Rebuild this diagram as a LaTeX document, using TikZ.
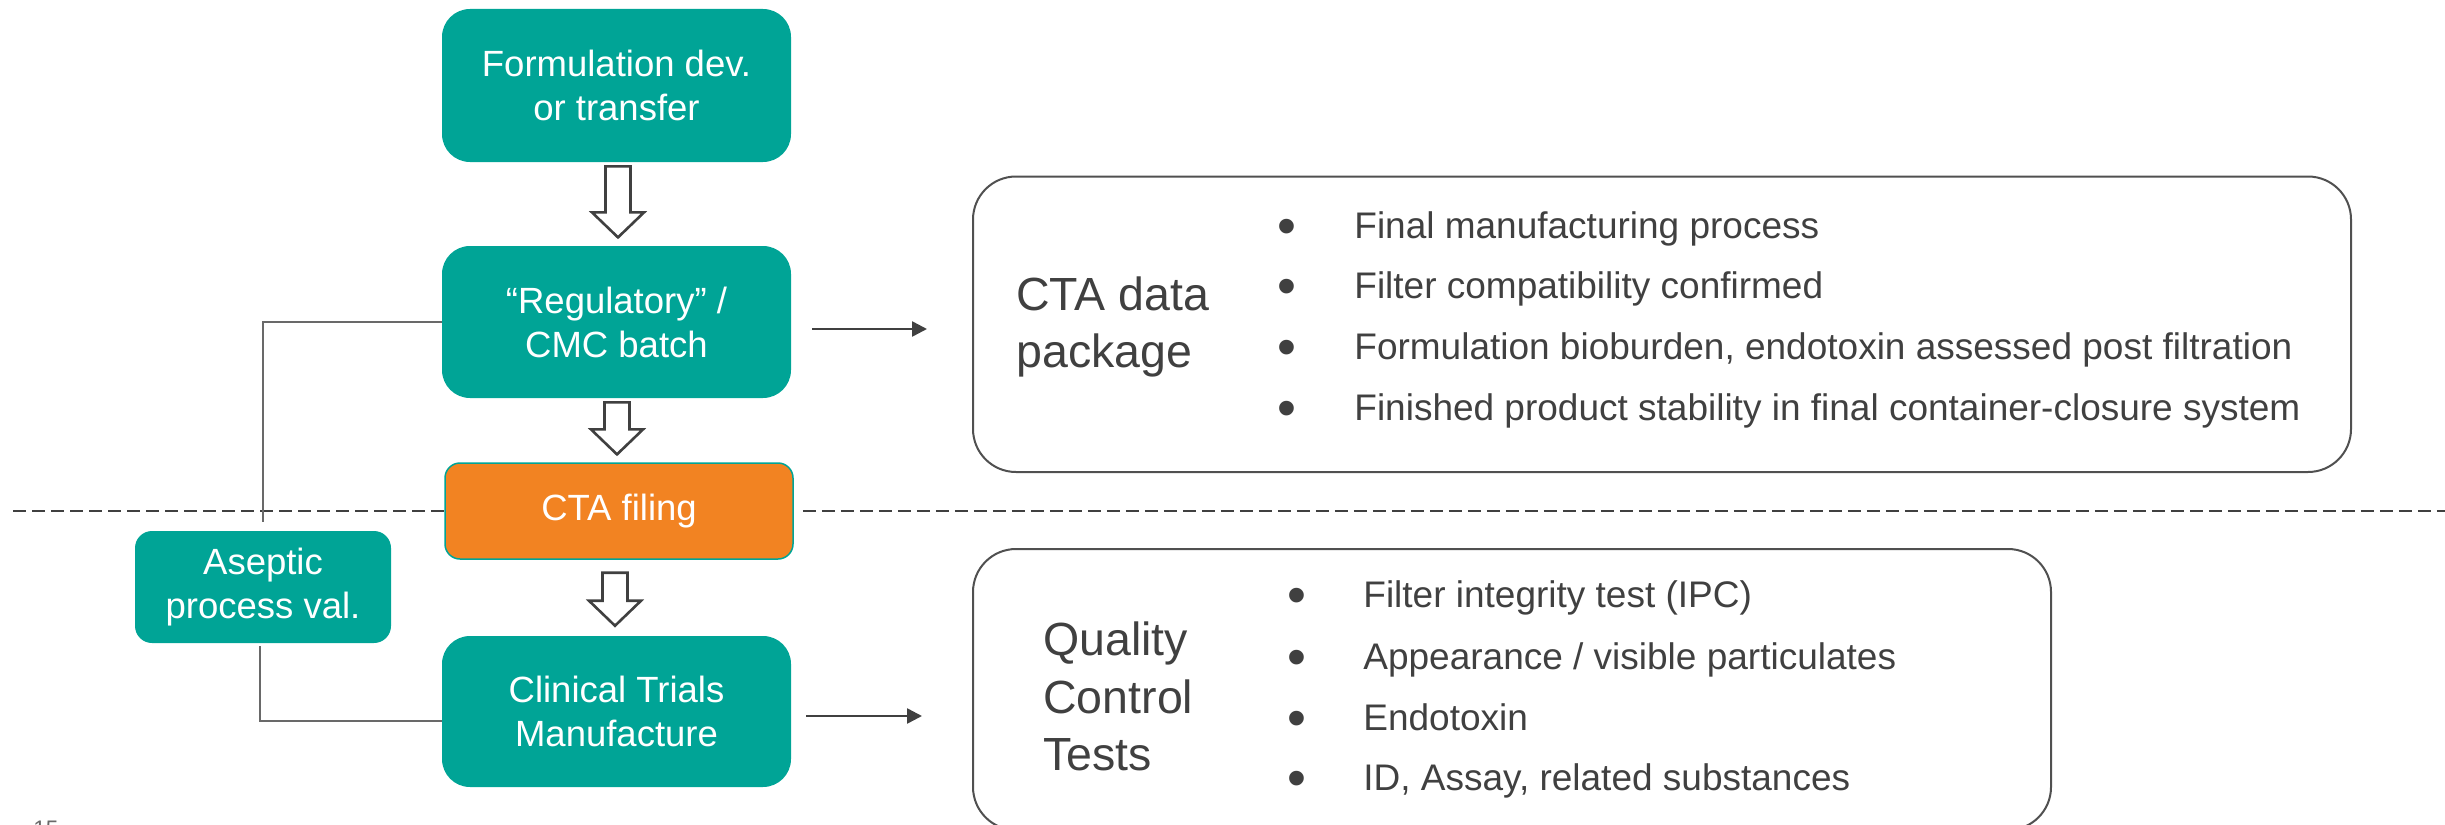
\documentclass[tikz,border=0pt]{standalone}
\usepackage{fontspec}
\setmainfont{Liberation Sans}
\usetikzlibrary{calc,arrows.meta}

\definecolor{flowteal}{RGB}{0,164,150}
\definecolor{fileorange}{RGB}{242,131,34}
\definecolor{inkgray}{RGB}{64,64,64}
\definecolor{boxgray}{RGB}{80,80,80}
\definecolor{feedgray}{RGB}{105,105,105}

\tikzset{
  flowbox/.style={fill=flowteal, draw=none, rounded corners=14pt, text=white,
    font=\fontsize{18.25pt}{22pt}\selectfont, align=center, inner sep=0pt},
  panel/.style={draw=boxgray, line width=1pt, rounded corners=21.5pt, fill=white, inner sep=0pt},
  heading/.style={text=inkgray, font=\fontsize{23.25pt}{28pt}\selectfont, inner sep=0pt},
  item/.style={text=inkgray, font=\fontsize{18.5pt}{22pt}\selectfont, inner sep=0pt},
  dot/.style={text=inkgray, font=\fontsize{27pt}{30pt}\selectfont, inner sep=0pt, anchor=center},
  blockline/.style={draw=inkgray, line width=1.3pt, fill=white, line join=miter},
  pointer/.style={draw=inkgray, line width=1.25pt, -{Triangle[length=7.5pt,width=7.5pt]}},
  feed/.style={draw=feedgray, line width=0.75pt},
  divider/.style={draw=inkgray, line width=1pt, dash pattern=on 6.5pt off 3pt},
  pagenum/.style={text=feedgray, font=\fontsize{11.25pt}{13pt}\selectfont, inner sep=0pt},
  pics/blockdown/.style={code={
    \draw[blockline] (-12.5,0) -- (-12.5,#1-25) -- (-26,#1-25) -- (0,#1)
      -- (26,#1-25) -- (12.5,#1-25) -- (12.5,0) -- cycle;
  }}
}

\begin{document}
\begin{tikzpicture}[x=0.5pt,y=-0.5pt]
\useasboundingbox (0,0) rectangle (2445,824);
\clip (0,0) rectangle (2445,824);

% process steps
\node[flowbox, minimum width=174.5pt, minimum height=76.5pt] (form) at (616.5,85.5) {Formulation dev.\\or transfer};
\node[flowbox, minimum width=174.5pt, minimum height=76pt] (reg) at (616.5,322) {“Regulatory” /\\CMC batch};
\node[flowbox, fill=fileorange, draw=flowteal, line width=0.75pt, rounded corners=7.5pt,
      minimum width=174pt, minimum height=48pt] (cta) at (619,511) {CTA filing};
\node[flowbox, minimum width=174.5pt, minimum height=75.5pt] (clin) at (616.5,711.5) {Clinical Trials\\Manufacture};
\node[flowbox, rounded corners=8.5pt, minimum width=128pt, minimum height=56pt] (ase) at (263,587) {Aseptic\\process val.};

% divider between the two phases
\draw[divider] (13,511) -- (cta.west);
\draw[divider] ($(cta.east)+(9,0)$) -- (2445,511);

% hollow flow arrows
\pic at ($(form.south)+(1.5,4)$) {blockdown=71};
\pic at ($(reg.south)+(0.5,4)$) {blockdown=52};
\pic at ($(cta.south)+(-4,13)$) {blockdown=53};

% aseptic validation links
\draw[feed] (reg.west) -| ($(ase.north)+(0,-9)$);
\draw[feed] ($(ase.south)+(-3,3)$) |- ($(clin.west)+(0,9.5)$);

% summary panels
\node[panel, minimum width=689pt, minimum height=147.75pt] (pkgbox) at (1662,324.25) {};
\node[panel, minimum width=539pt, minimum height=140.5pt] (qcbox) at (1512,689.5) {};

\draw[pointer] ($(reg.east)+(21,7)$) -- ($(pkgbox.west)+(-45,4.75)$);
\draw[pointer] ($(clin.east)+(15,4.5)$) -- ($(qcbox.west)+(-50,26.5)$);

\node[heading, anchor=base west] (pkgA) at (1016,310) {CTA data};
\node[heading, anchor=base west] (pkgB) at (1016,367) {package};

\foreach \y/\c/\t [count=\i] in {238/232/{Final manufacturing process},
    298/292/{Filter compatibility confirmed},
    359/353/{Formulation bioburden, endotoxin assessed post filtration},
    420/414/{Finished product stability in final container-closure system}} {
  \node[dot] (pd\i) at (1287,\c) {•};
  \node[item, anchor=base west] (pt\i) at (1354,\y) {\t};
}

\node[heading, anchor=base west] (qcA) at (1043,655) {Quality};
\node[heading, anchor=base west] (qcB) at (1043,713) {Control};
\node[heading, anchor=base west] (qcC) at (1043,770) {Tests};

\foreach \y/\c/\t [count=\i] in {607/601/{Filter integrity test (IPC)},
    669/663/{Appearance / visible particulates},
    730/724/{Endotoxin},
    790/784/{ID, Assay, related substances}} {
  \node[dot] (qd\i) at (1297,\c) {•};
  \node[item, anchor=base west] (qt\i) at (1363,\y) {\t};
}

% slide number
\node[pagenum, anchor=base west] (pg) at (33,836) {15};
\end{tikzpicture}
\end{document}
